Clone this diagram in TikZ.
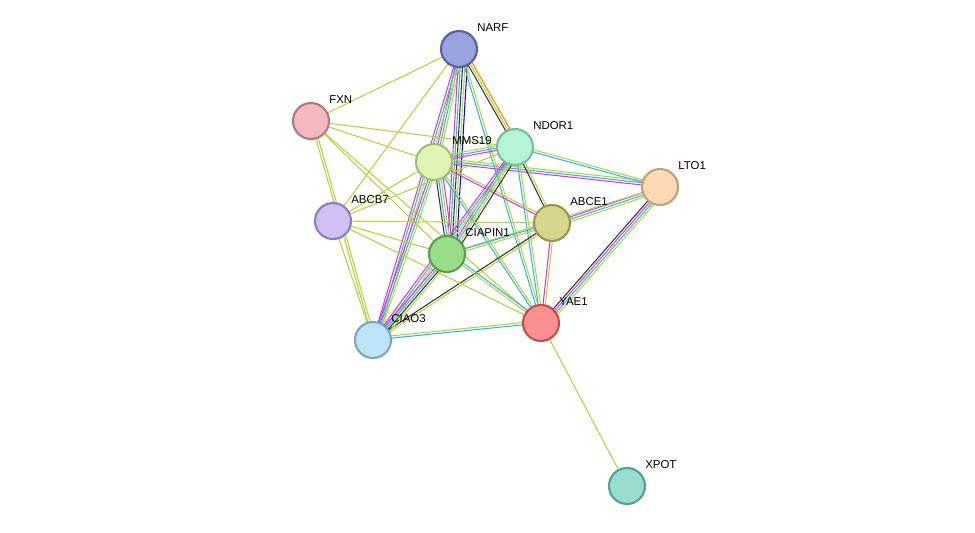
\documentclass[tikz,border=0pt]{standalone}
\usepackage{fontspec}
\setmainfont{Liberation Sans}
\usetikzlibrary{calc}
\definecolor{tm}{HTML}{B5D33D}
\definecolor{mg}{HTML}{E034D8}
\definecolor{cy}{HTML}{2EB8DB}
\definecolor{bk}{HTML}{333333}
\newcommand{\lnk}[3]{%
  \foreach \c [count=\i] in {#3}
    \draw[line width=0.6pt,\c] ($(#1)!{(\i-1)*1.3pt}!90:(#2)$) -- ($(#2)!{(\i-1)*1.3pt}!-90:(#1)$);}
\tikzset{prot/.style={circle,minimum size=0.72cm,inner sep=0pt,line width=1.2pt},
  lbl/.style={anchor=west,inner sep=0pt,font=\fontsize{6.5}{7}\selectfont}}
\begin{document}
\begin{tikzpicture}[x=0.02cm,y=-0.02cm]
  \useasboundingbox (0,0) rectangle (975,532);
  % proteins
  \coordinate (narf) at (459,49);
  \coordinate (fxn) at (311,121);
  \coordinate (mms19) at (434,162);
  \coordinate (ndor1) at (515,147);
  \coordinate (lto1) at (660,187);
  \coordinate (abce1) at (552,223);
  \coordinate (abcb7) at (333,221);
  \coordinate (ciapin1) at (447,254);
  \coordinate (yae1) at (541,323);
  \coordinate (ciao3) at (373,340);
  \coordinate (xpot) at (627,486);
  % links
  \lnk{narf}{fxn}{tm}
  \lnk{narf}{abcb7}{tm}
  \lnk{narf}{mms19}{mg,cy,tm}
  \lnk{narf}{ndor1}{bk,tm,orange}
  \lnk{narf}{ciapin1}{mg,cy,bk,tm,blue}
  \lnk{narf}{yae1}{cy,tm}
  \lnk{narf}{ciao3}{mg,cy,tm}
  \lnk{fxn}{mms19}{tm}
  \lnk{fxn}{ndor1}{tm}
  \lnk{fxn}{ciapin1}{tm}
  \lnk{fxn}{ciao3}{tm,tm}
  \lnk{fxn}{yae1}{tm}
  \lnk{mms19}{ndor1}{mg,cy,tm}
  \lnk{mms19}{lto1}{mg,cy,tm}
  \lnk{mms19}{abce1}{mg,tm}
  \lnk{mms19}{ciapin1}{bk,cy,tm,mg}
  \lnk{mms19}{yae1}{cy,tm}
  \lnk{mms19}{ciao3}{mg,cy,tm}
  \lnk{mms19}{abcb7}{tm}
  \lnk{ndor1}{lto1}{cy,tm}
  \lnk{ndor1}{abce1}{bk,tm}
  \lnk{ndor1}{ciapin1}{mg,cy,tm,bk}
  \lnk{ndor1}{yae1}{cy,tm}
  \lnk{ndor1}{ciao3}{mg,cy,tm}
  \lnk{ndor1}{abcb7}{tm}
  \lnk{lto1}{abce1}{mg,cy,tm}
  \lnk{lto1}{yae1}{bk,mg,cy,tm}
  \lnk{lto1}{ciapin1}{tm}
  \lnk{abce1}{ciapin1}{cy,tm}
  \lnk{abce1}{yae1}{mg,tm}
  \lnk{abce1}{ciao3}{bk,tm}
  \lnk{abcb7}{ciapin1}{tm}
  \lnk{abcb7}{yae1}{tm}
  \lnk{abcb7}{abce1}{tm}
  \lnk{abcb7}{ciao3}{tm}
  \lnk{ciapin1}{yae1}{tm,cy}
  \lnk{ciapin1}{ciao3}{mg,cy,bk,tm}
  \lnk{ciao3}{yae1}{cy,tm}
  \lnk{yae1}{xpot}{tm}
  % nodes
  \node[prot,fill={rgb,255:red,153;green,163;blue,221},draw={rgb,255:red,85;green,96;blue,166}] (n1) at (narf) {};
  \node[prot,fill={rgb,255:red,244;green,184;blue,191},draw={rgb,255:red,176;green,122;blue,128}] (n2) at (fxn) {};
  \node[prot,fill={rgb,255:red,224;green,245;blue,181},draw={rgb,255:red,160;green,190;blue,120}] (n3) at (mms19) {};
  \node[prot,fill={rgb,255:red,181;green,245;blue,213},draw={rgb,255:red,120;green,190;blue,155}] (n4) at (ndor1) {};
  \node[prot,fill={rgb,255:red,253;green,217;blue,181},draw={rgb,255:red,195;green,160;blue,125}] (n5) at (lto1) {};
  \node[prot,fill={rgb,255:red,214;green,214;blue,138},draw={rgb,255:red,150;green,150;blue,80}] (n6) at (abce1) {};
  \node[prot,fill={rgb,255:red,209;green,192;blue,245},draw={rgb,255:red,145;green,125;blue,185}] (n7) at (abcb7) {};
  \node[prot,fill={rgb,255:red,153;green,221;blue,136},draw={rgb,255:red,85;green,160;blue,75}] (n8) at (ciapin1) {};
  \node[prot,fill={rgb,255:red,251;green,144;blue,144},draw={rgb,255:red,190;green,80;blue,80}] (n9) at (yae1) {};
  \node[prot,fill={rgb,255:red,189;green,229;blue,248},draw={rgb,255:red,125;green,165;blue,195}] (n10) at (ciao3) {};
  \node[prot,fill={rgb,255:red,153;green,221;blue,208},draw={rgb,255:red,85;green,160;blue,150}] (n11) at (xpot) {};
  % labels
  \foreach \p/\t in {narf/NARF,fxn/FXN,mms19/MMS19,ndor1/NDOR1,lto1/LTO1,abce1/ABCE1,
      abcb7/ABCB7,ciapin1/CIAPIN1,yae1/YAE1,ciao3/CIAO3,xpot/XPOT}
    \node[lbl] at ($(\p)+(18,-21)$) {\t};
\end{tikzpicture}
\end{document}
